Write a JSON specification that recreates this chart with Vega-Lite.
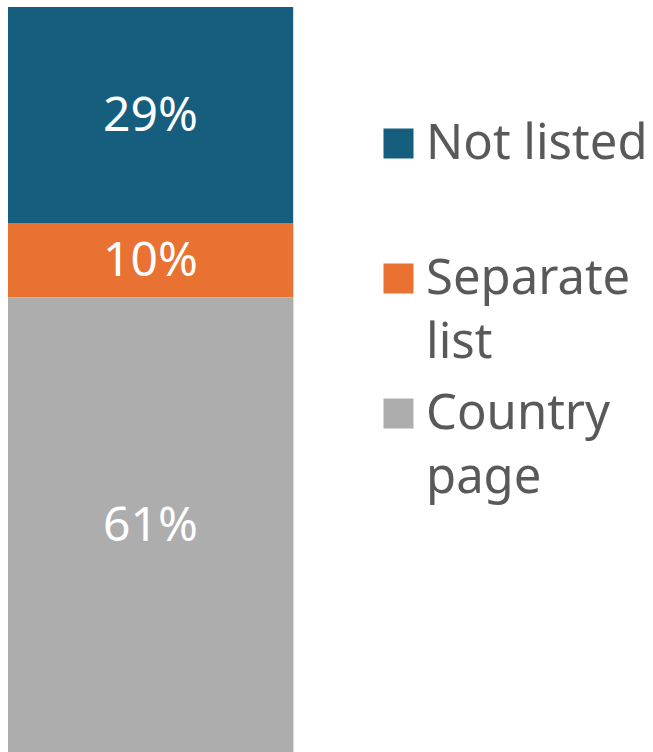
{
  "$schema": "https://vega.github.io/schema/vega-lite/v6.json",
  "width": 285,
  "height": 745,
  "autosize": "none",
  "padding": {"left": 8, "top": 7, "right": 360, "bottom": 0},
  "background": "white",
  "config": {"style": {"guide-label": {"lineHeight": 64}}},
  "data": {"values": [
    {"cat": "Not listed", "v": 29, "lab": "29%", "ord": 3},
    {"cat": "Separate list", "v": 10, "lab": "10%", "ord": 2},
    {"cat": "Country page", "v": 61, "lab": "61%", "ord": 1}
  ]},
  "transform": [
    {"stack": "v", "groupby": [], "sort": [{"field": "ord"}], "as": ["y0", "y1"]},
    {"calculate": "(datum.y0 + datum.y1) / 2", "as": "mid"}
  ],
  "encoding": {
    "x": {"datum": "a", "type": "nominal", "axis": null, "scale": {"paddingInner": 0, "paddingOuter": 0}}
  },
  "layer": [
    {
      "mark": {"type": "bar", "width": {"band": 1}},
      "encoding": {
        "y": {"field": "y0", "type": "quantitative", "scale": {"domain": [0, 100], "nice": false}, "axis": null},
        "y2": {"field": "y1"},
        "color": {
          "field": "cat", "type": "nominal",
          "scale": {"domain": ["Not listed", "Separate list", "Country page"], "range": ["#165E7E", "#E97132", "#ADADAD"]},
          "legend": {
            "title": null,
            "orient": "none",
            "legendX": 366,
            "legendY": 112,
            "padding": 0,
            "symbolType": "square",
            "symbolSize": 900,
            "symbolStrokeWidth": 0,
            "labelFontSize": 49,
            "labelFont": "Noto Sans",
            "labelColor": "#595959",
            "labelOffset": 3,
            "labelLimit": 400,
            "rowPadding": 21,
            "gridAlign": "all",
            "labelExpr": "datum.label == 'Not listed' ? datum.label : split(datum.label, ' ')"
          }
        }
      }
    },
    {
      "mark": {"type": "text", "color": "white", "fontSize": 48, "font": "Noto Sans", "baseline": "middle", "align": "center", "dy": 2},
      "encoding": {
        "y": {"field": "mid", "type": "quantitative"},
        "text": {"field": "lab"},
        "detail": {"field": "cat"}
      }
    }
  ]
}
